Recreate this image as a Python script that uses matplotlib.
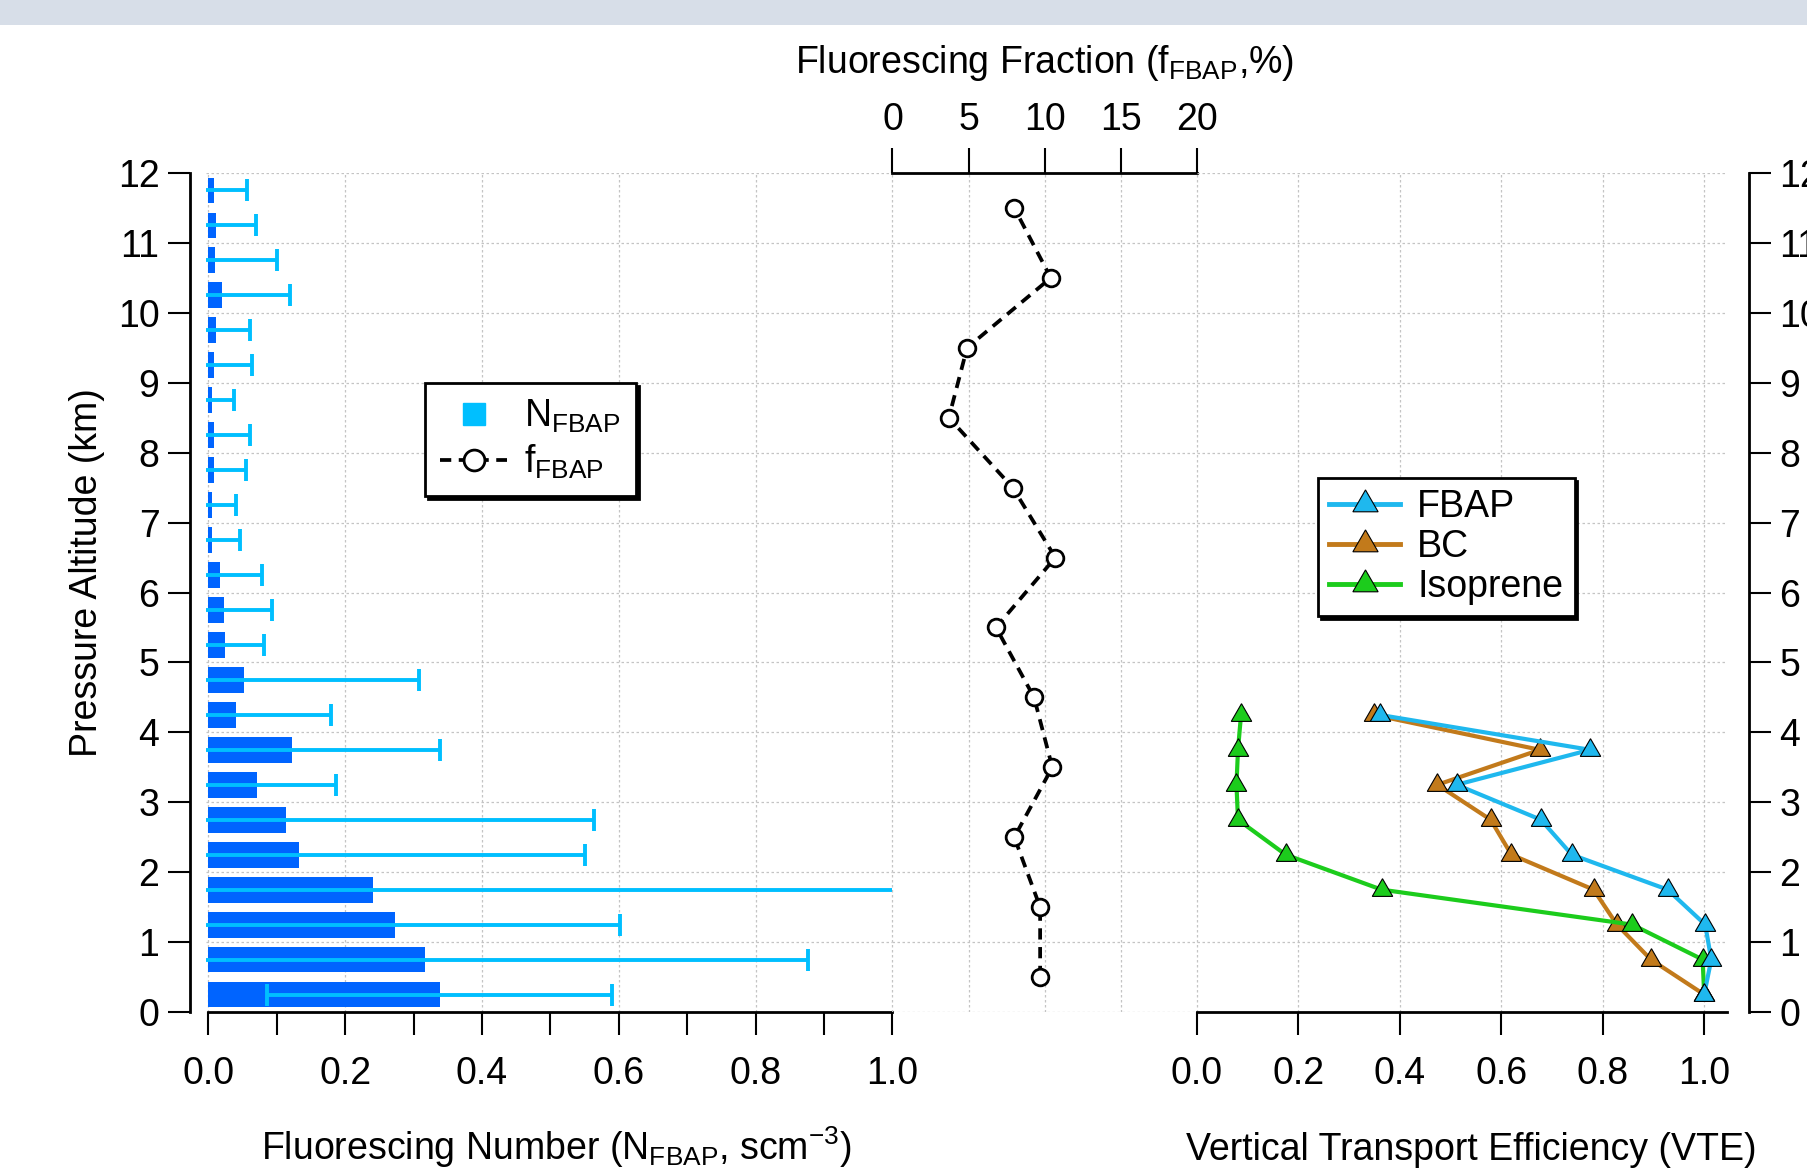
import matplotlib
matplotlib.use("Agg")

import numpy as np
import matplotlib.pyplot as plt
from matplotlib.lines import Line2D
from matplotlib.patches import Rectangle
from matplotlib.ticker import MultipleLocator, FormatStrFormatter

plt.rcParams["font.family"] = ["Liberation Sans", "DejaVu Sans"]
plt.rcParams["mathtext.fontset"] = "custom"
plt.rcParams["mathtext.rm"] = "Liberation Sans"
plt.rcParams["mathtext.it"] = "Liberation Sans:italic"
plt.rcParams["mathtext.bf"] = "Liberation Sans:bold"

# ── Data ─────────────────────────────────────────────────────────────────────
# fluorescing number, 0.5 km bins
alt_n = [0.25, 0.75, 1.25, 1.75, 2.25, 2.75, 3.25, 3.75, 4.25, 4.75, 5.25, 5.75,
         6.25, 6.75, 7.25, 7.75, 8.25, 8.75, 9.25, 9.75, 10.25, 10.75, 11.25, 11.75]
n_fbap = [0.338, 0.317, 0.273, 0.241, 0.132, 0.113, 0.071, 0.123, 0.041, 0.052, 0.025, 0.023,
          0.017, 0.006, 0.005, 0.009, 0.009, 0.005, 0.009, 0.011, 0.020, 0.010, 0.011, 0.008]
n_sd = [0.252, 0.560, 0.329, 1.000, 0.419, 0.450, 0.115, 0.216, 0.138, 0.256, 0.057, 0.070,
        0.061, 0.040, 0.035, 0.046, 0.052, 0.032, 0.055, 0.050, 0.099, 0.091, 0.059, 0.049]

# fluorescing fraction, 1 km bins
alt_f = [0.5, 1.5, 2.5, 3.5, 4.5, 5.5, 6.5, 7.5, 8.5, 9.5, 10.5, 11.5]
f_fbap = [9.7, 9.7, 8.0, 10.5, 9.3, 6.8, 10.7, 7.9, 3.7, 4.9, 10.4, 8.0]

# vertical transport efficiency
alt_v = [0.25, 0.75, 1.25, 1.75, 2.25, 2.75, 3.25, 3.75, 4.25]
vte_fbap = [1.000, 1.014, 1.002, 0.928, 0.739, 0.678, 0.512, 0.775, 0.360]
vte_bc = [1.000, 0.895, 0.828, 0.782, 0.620, 0.579, 0.474, 0.676, 0.349]
vte_iso = [1.000, 0.997, 0.858, 0.364, 0.175, 0.081, 0.078, 0.081, 0.087]

# ── Layout (pixel based) ─────────────────────────────────────────────────────
W, H = 1808, 1170


def box(x0, y0, x1, y1):
    return [x0 / W, 1 - y1 / H, (x1 - x0) / W, (y1 - y0) / H]


fig = plt.figure(figsize=(W / 100, H / 100), dpi=100)
fig.patches.append(Rectangle((0, 1 - 25 / H), 1, 25 / H, transform=fig.transFigure,
                             facecolor="#D7DEE8", edgecolor="none", zorder=0))

Y_TOP, Y_BOT = 173, 1012
ax1 = fig.add_axes(box(205.6, Y_TOP, 892.5, Y_BOT))
ax2 = fig.add_axes(box(892.5, Y_TOP, 1196.9, Y_BOT))
ax3 = fig.add_axes(box(1196.9, Y_TOP, 1727.0, Y_BOT))

grid_kw = dict(color="#C4C4C4", linestyle=(0, (2, 2)), linewidth=0.9)
TXT = 27

for ax in (ax1, ax2, ax3):
    ax.set_ylim(0, 12)
    ax.yaxis.set_major_locator(MultipleLocator(1))
    ax.set_facecolor("none")
    ax.grid(True, which="major", **grid_kw)
    ax.set_axisbelow(True)
    for s in ax.spines.values():
        s.set_visible(False)
        s.set_linewidth(2)
    ax.get_ygridlines()[-1].set_visible(False)

# ── Left: fluorescing number ─────────────────────────────────────────────────
ax1.barh(alt_n, n_fbap, height=0.37, color="#0064FF", zorder=2)
ax1.errorbar(n_fbap, alt_n, xerr=n_sd, fmt="none", ecolor="#00BFFF",
             elinewidth=2.8, capsize=8, capthick=2.8, zorder=3)
ax1.set_xlim(-0.004, 1.0)
ax1.xaxis.set_major_locator(MultipleLocator(0.2))
ax1.xaxis.set_minor_locator(MultipleLocator(0.1))
ax1.xaxis.set_major_formatter(FormatStrFormatter("%.1f"))
ax1.spines["left"].set_visible(True)
ax1.spines["left"].set_position(("outward", 11.2))
ax1.spines["bottom"].set_visible(True)
ax1.spines["bottom"].set_bounds(0, 1.0)
ax1.tick_params(axis="x", which="both", direction="out", length=16.5, width=1.5,
                pad=15, labelsize=TXT)
ax1.tick_params(axis="y", direction="out", length=16, width=1.5, pad=6, labelsize=TXT)
ax1.set_xlabel(r"Fluorescing Number (N$_{\mathrm{FBAP}}$, scm$^{-3}$)", fontsize=TXT, va="baseline")
ax1.xaxis.set_label_coords(556.5 / W, 1 - 1160 / H, transform=fig.transFigure)
ax1.set_ylabel("Pressure Altitude (km)", fontsize=TXT, va="center")
ax1.yaxis.set_label_coords(87 / W, 1 - 573 / H, transform=fig.transFigure)

# ── Middle: fluorescing fraction ─────────────────────────────────────────────
ax2.plot(f_fbap, alt_f, color="black", linestyle=(0, (3, 2)), linewidth=2.7,
         marker="o", markersize=12, markerfacecolor="white",
         markeredgecolor="black", markeredgewidth=2, zorder=3)
ax2.set_xlim(0, 20)
ax2.xaxis.set_major_locator(MultipleLocator(5))
ax2.xaxis.tick_top()
ax2.spines["top"].set_visible(True)
ax2.tick_params(axis="x", direction="out", length=18, width=1.5, pad=7, labelsize=TXT)
ax2.tick_params(axis="y", left=False, labelleft=False)
ax2.xaxis.set_label_position("top")
ax2.set_xlabel(r"Fluorescing Fraction (f$_{\mathrm{FBAP}}$,%)", fontsize=TXT, va="baseline")
ax2.xaxis.set_label_coords(1045 / W, 1 - 72.7 / H, transform=fig.transFigure)

# ── Right: vertical transport efficiency ─────────────────────────────────────
tri = (3, 0, 0)
c_fbap, c_bc, c_iso = "#1FB8EE", "#C27A1B", "#1CCC1C"
ax3.plot(vte_bc, alt_v, color=c_bc, linewidth=3, marker=tri, markersize=17,
         markerfacecolor=c_bc, markeredgecolor="black", markeredgewidth=0.8, zorder=3)
ax3.plot(vte_iso, alt_v, color=c_iso, linewidth=3, marker=tri, markersize=17,
         markerfacecolor=c_iso, markeredgecolor="black", markeredgewidth=0.8, zorder=4)
ax3.plot(vte_fbap, alt_v, color=c_fbap, linewidth=3, marker=tri, markersize=17,
         markerfacecolor=c_fbap, markeredgecolor="black", markeredgewidth=0.8, zorder=5)
ax3.set_xlim(0, 1.045)
ax3.xaxis.set_major_locator(MultipleLocator(0.2))
ax3.xaxis.set_major_formatter(FormatStrFormatter("%.1f"))
ax3.spines["bottom"].set_visible(True)
ax3.spines["right"].set_visible(True)
ax3.spines["right"].set_position(("outward", 15.8))
ax3.yaxis.tick_right()
ax3.tick_params(axis="x", direction="out", length=16.5, width=1.5, pad=15, labelsize=TXT)
ax3.tick_params(axis="y", direction="out", length=16, width=1.5, pad=6, labelsize=TXT)
ax3.set_xlabel("Vertical Transport Efficiency (VTE)", fontsize=TXT, va="baseline")
ax3.xaxis.set_label_coords(1471.7 / W, 1 - 1160 / H, transform=fig.transFigure)

# ── Legends ──────────────────────────────────────────────────────────────────
leg_kw = dict(loc="upper left", bbox_transform=fig.transFigure, borderaxespad=0,
              fancybox=False, edgecolor="black", framealpha=1, fontsize=TXT,
              shadow={"color": "black", "alpha": 1})

h_n = Line2D([], [], linestyle="none", marker="s", markersize=16, color="#00BFFF")
h_f = Line2D([], [], color="black", linestyle=(0, (3, 2)), linewidth=2.7, marker="o",
             markersize=15, markerfacecolor="white", markeredgecolor="black",
             markeredgewidth=2)
leg1 = fig.legend([h_n, h_f], [r"N$_{\mathrm{FBAP}}$", r"f$_{\mathrm{FBAP}}$"],
                  bbox_to_anchor=(425 / W, 1 - 383 / H), handlelength=1.8,
                  handletextpad=0.45, labelspacing=0.2, borderpad=0.4, **leg_kw)
leg1.get_frame().set_linewidth(2)

h_v = [Line2D([], [], color=c, linewidth=3.5, marker=tri, markersize=21,
              markerfacecolor=c, markeredgecolor="black", markeredgewidth=0.8)
       for c in (c_fbap, c_bc, c_iso)]
leg2 = fig.legend(h_v, ["FBAP", "BC", "Isoprene"],
                  bbox_to_anchor=(1318 / W, 1 - 478 / H), handlelength=1.9,
                  handletextpad=0.45, labelspacing=0.1, borderpad=0.3, **leg_kw)
leg2.get_frame().set_linewidth(2)

fig.savefig("out.png", dpi=100)
plt.close(fig)
